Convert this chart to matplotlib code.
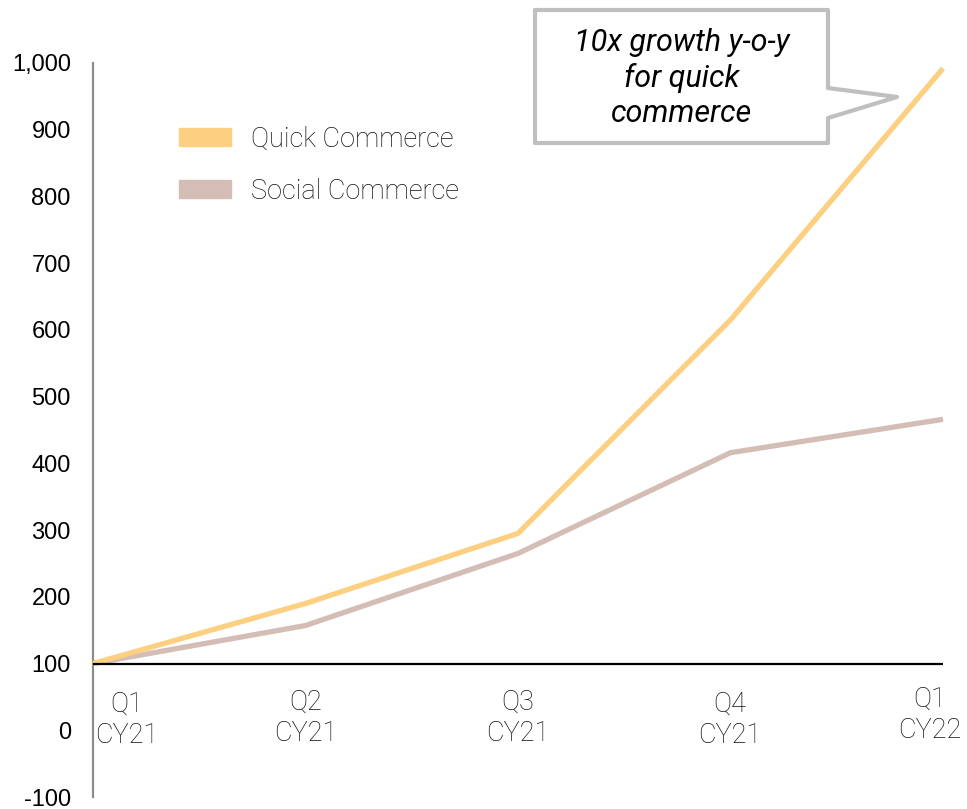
import matplotlib.pyplot as plt
from matplotlib.patches import Patch, Polygon

# Datos (índice, Q1 CY21 = 100)
trimestres = ["Q1\nCY21", "Q2\nCY21", "Q3\nCY21", "Q4\nCY21", "Q1\nCY22"]
quick_commerce = [100, 190, 295, 615, 992]
social_commerce = [100, 157, 265, 416, 466]
ticks_y = list(range(-100, 1001, 100))

color_quick = "#FDCF80"
color_social = "#D3BDB5"
color_texto = "#111111"

W, H = 967, 809
fig = plt.figure(figsize=(W / 100, H / 100), dpi=100)
ax = fig.add_axes([93 / W, 1 - 797 / H, (943 - 93) / W, (797 - 63) / H])

x = list(range(len(trimestres)))
ax.plot(x, quick_commerce, color=color_quick, lw=3.8, solid_capstyle="butt", zorder=3, clip_on=False)
ax.plot(x, social_commerce, color=color_social, lw=3.8, solid_capstyle="butt", zorder=2, clip_on=False)
ax.axhline(100, color="black", lw=1.6, zorder=4)

ax.set_xlim(0, len(trimestres) - 1)
ax.set_ylim(-100, 1000)
ax.set_yticks(ticks_y)
ax.set_yticklabels([f"{v:,}" for v in ticks_y], fontsize=17, family="Liberation Sans")
ax.tick_params(axis="y", length=0, pad=16)
ax.set_xticks([])
for s in ["top", "right", "bottom"]:
    ax.spines[s].set_visible(False)
ax.spines["left"].set_color("#8C8C8C")
ax.spines["left"].set_linewidth(1.6)

# Etiquetas del eje X (debajo de la línea de 100)
desplaz = [(34, -27), (0, -25), (0, -25), (-1, -27), (-13, -22)]
for xi, lab, (dx, dy) in zip(x, trimestres, desplaz):
    ax.annotate(lab, (xi, 100), xytext=(dx, dy), textcoords="offset pixels",
                ha="center", va="top", fontsize=19.5, family="Roboto",
                fontweight="light", color=color_texto, linespacing=1.2,
                annotation_clip=False)

# Leyenda
handles = [Patch(color=color_quick, label="Quick Commerce"),
           Patch(color=color_social, label="Social Commerce")]
leg = ax.legend(handles=handles, loc="upper left", bbox_to_anchor=(0.073, 0.948),
                frameon=False, handlelength=1.9, handleheight=0.62,
                handletextpad=0.75, labelspacing=0.93,
                prop={"family": "Roboto", "weight": "light", "size": 19.5})
for t in leg.get_texts():
    t.set_color(color_texto)

# Globo de comentario
def px(xp, yp):
    return (xp / W, 1 - yp / H)

globo = Polygon([px(535, 10), px(828, 10), px(828, 88), px(897, 97), px(828, 118),
                 px(828, 143), px(535, 143)], closed=True, transform=fig.transFigure,
                facecolor="white", edgecolor="#BFBFBF", lw=3, joinstyle="round", zorder=5)
fig.add_artist(globo)
fig.text(*px(682, 78), "10x growth y-o-y\nfor quick\ncommerce", ha="center", va="center",
         fontsize=22, style="italic", family="Roboto", color="black", linespacing=1.27,
         zorder=6)

plt.savefig("out.png", dpi=100)
plt.close()
